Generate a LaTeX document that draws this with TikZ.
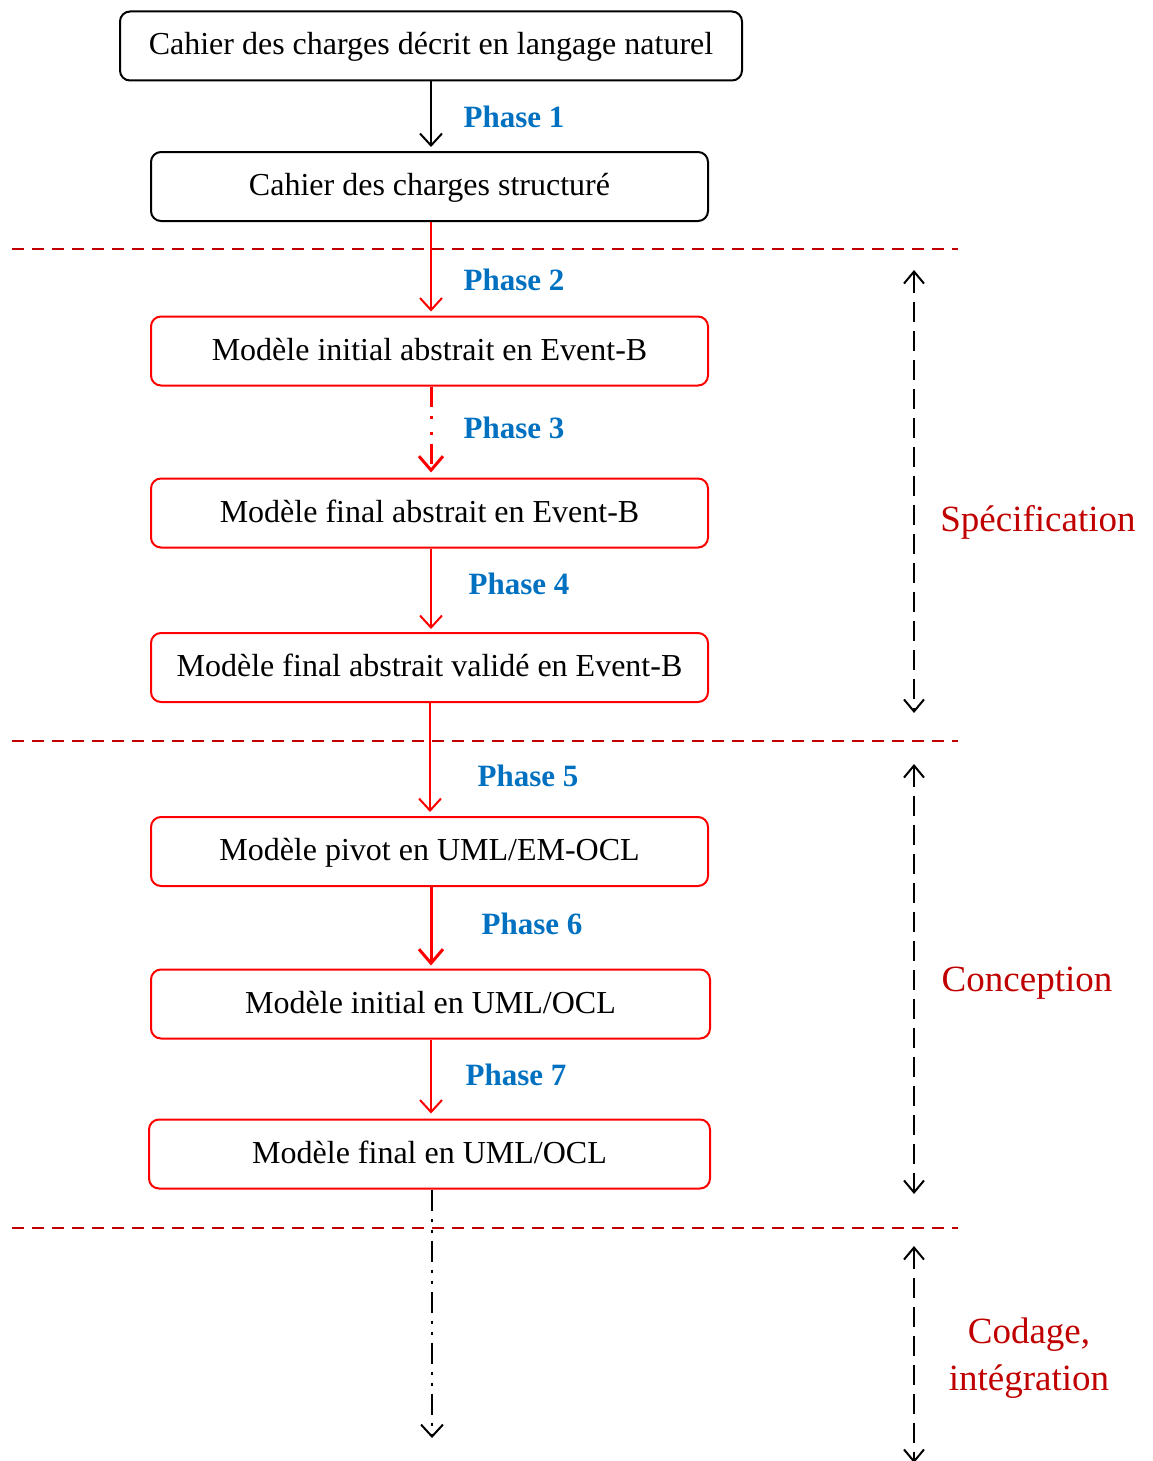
\documentclass[tikz,border=0pt]{standalone}
\usepackage{fontspec}
\setmainfont{Liberation Serif}
\usetikzlibrary{positioning}
\usetikzlibrary{arrows.meta}

\definecolor{phaseblue}{RGB}{0,112,192}
\definecolor{darkred}{RGB}{192,0,0}

\tikzset{
	box/.style={draw, line width=2pt, rounded corners=10pt, minimum height=69pt, inner sep=0pt, text height=23pt, text depth=5pt, font=\fontsize{32}{38}\selectfont},
	redbox/.style={box, draw=red},
	phase/.style={text=phaseblue, font=\fontsize{31}{36}\selectfont\bfseries},
	steplabel/.style={text=darkred, align=center, font=\fontsize{37}{47}\selectfont},
	tip/.style={-{Straight Barb[length=12pt,width=22pt,line width=2pt]}},
	bigtip/.style={-{Straight Barb[length=14pt,width=24pt,line width=3pt]}},
	sep/.style={darkred, line width=2pt, dash pattern=on 12pt off 8pt},
	span/.style={line width=2pt, dash pattern=on 20pt off 9pt, {Straight Barb[length=12pt,width=20pt,line width=2pt]}-{Straight Barb[length=12pt,width=20pt,line width=2pt]}}
}

\begin{document}
\begin{tikzpicture}[x=1pt,y=-1pt]
		\useasboundingbox (0,0) rectangle (1152,1461);

		% boxes
		\node[box, minimum width=622pt] (cdc) at (431,46) {Cahier des charges décrit en langage naturel};
		\node[box, minimum width=557pt] (cdcs) at (429.5,186.5) {Cahier des charges structuré};
		\node[redbox, minimum width=557pt] (mia) at (429.5,351) {Modèle initial abstrait en Event-B};
		\node[redbox, minimum width=557pt] (mfa) at (429.5,513) {Modèle final abstrait en Event-B};
		\node[redbox, minimum width=557pt] (mfv) at (429.5,667.5) {Modèle final abstrait validé en Event-B};
		\node[redbox, minimum width=557pt] (mpivot) at (429.5,851.5) {Modèle pivot en UML/EM-OCL};
		\node[redbox, minimum width=559pt] (miuml) at (430.5,1004) {Modèle initial en UML/OCL};
		\node[redbox, minimum width=561pt] (mfuml) at (429.5,1154) {Modèle final en UML/OCL};
		\coordinate (fin) at (432,1438);

		% phases
		\draw[tip, line width=2pt] (cdc.south-|431,0) -- ([yshift=4pt]cdcs.north-|431,0);
		\node[phase] (p1) at (514,117) {Phase 1};
		\draw[tip, red, line width=2pt] (cdcs.south-|431,0) -- ([yshift=4pt]mia.north-|431,0);
		\node[phase] (p2) at (514,280) {Phase 2};
		\draw[bigtip, red, line width=3pt, dash pattern=on 20pt off 9pt on 3pt off 13pt on 3pt off 9pt] (mia.south-|431,0) -- ([yshift=5pt]mfa.north-|431,0);
		\node[phase] (p3) at (514,428) {Phase 3};
		\draw[tip, red, line width=2pt] (mfa.south-|431,0) -- ([yshift=3pt]mfv.north-|431,0);
		\node[phase] (p4) at (519,584) {Phase 4};
		\draw[tip, red, line width=2pt] (mfv.south-|430,0) -- ([yshift=4pt]mpivot.north-|430,0);
		\node[phase] (p5) at (528,776) {Phase 5};
		\draw[bigtip, red, line width=3pt] (mpivot.south-|431,0) -- ([yshift=3pt]miuml.north-|431,0);
		\node[phase] (p6) at (532,924) {Phase 6};
		\draw[tip, red, line width=2pt] (miuml.south-|431,0) -- ([yshift=5pt]mfuml.north-|431,0);
		\node[phase] (p7) at (516,1075) {Phase 7};
		\draw[tip, line width=2pt, dash pattern=on 21pt off 8pt on 3pt off 8pt on 3pt off 8pt] (mfuml.south-|432,0) -- (fin);

		% separators
		\draw[sep] (12,249) -- (958,249);
		\draw[sep] (12,741) -- (958,741);
		\draw[sep] (12,1228) -- (958,1228);

		% spans
		\coordinate (s1a) at (914,270);
		\coordinate (s1b) at (914,713);
		\coordinate (s2a) at (914,764);
		\coordinate (s2b) at (914,1194);
		\coordinate (s3a) at (914,1246);
		\coordinate (s3b) at (914,1463);
		\draw[span] (s1a) -- (s1b);
		\draw[span] (s2a) -- (s2b);
		\draw[span] (s3a) -- (s3b);
		\node[steplabel] (spec) at (1038,522) {Spécification};
		\node[steplabel] (conc) at (1027,983) {Conception};
		\node[steplabel] (cod) at (1029,1358) {Codage,\\intégration};
	\end{tikzpicture}
\end{document}
